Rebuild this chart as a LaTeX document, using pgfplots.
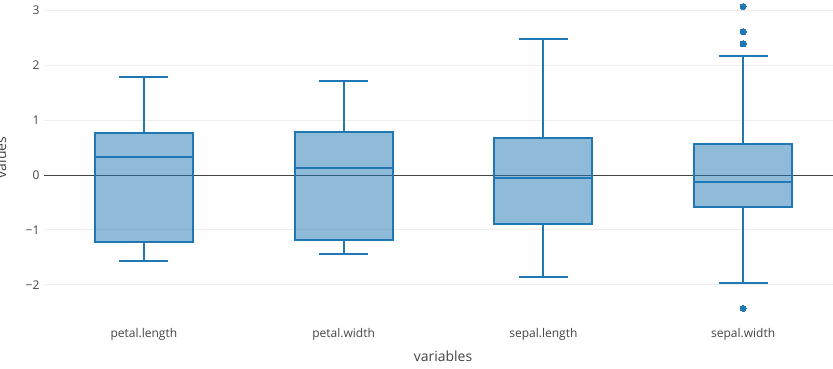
\documentclass[border=0pt]{standalone}
\usepackage{fontspec}
\setmainfont{Open Sans}
\usepackage{pgfplots}
\pgfplotsset{compat=1.18}
\usepgfplotslibrary{statistics}
\definecolor{c}{RGB}{31,119,180}
\definecolor{tx}{RGB}{68,68,68}
\definecolor{gr}{RGB}{238,238,238}
\begin{document}
\begin{tikzpicture}[x=1pt,y=1pt]
\path[use as bounding box] (0,0) rectangle (833,368);
\begin{axis}[
  at={(44pt,50pt)}, anchor=south west,
  scale only axis, width=789pt, height=318pt,
  xmin=-0.5, xmax=3.45, ymin=-2.605, ymax=3.19,
  axis line style={draw=none},
  major tick length=0pt,
  xtick={0,1,2,3},
  xticklabels={petal.length,petal.width,sepal.length,sepal.width},
  ytick={-2,-1,0,1,2,3},
  yticklabels={−2,−1,0,1,2,3},
  ymajorgrids, grid style={gr, line width=1pt},
  tick label style={font=\fontsize{12}{14}\selectfont, text=tx},
  xticklabel style={yshift=-7pt},
  yticklabel style={xshift=-1pt},
  clip=false,
  boxplot/draw direction=y,
  boxplot/box extend=0.49,
  boxplot/whisker extend=0.245,
]
\addplot[tx, line width=1pt] coordinates {(-0.5,0) (3.45,0)};
\addplot[boxplot prepared={draw position=0, lower whisker=-1.56, lower quartile=-1.22, median=0.33, upper quartile=0.76, upper whisker=1.78},
  draw=c, fill=c, fill opacity=0.5, draw opacity=1, line width=2pt] coordinates {};
\addplot[boxplot prepared={draw position=1, lower whisker=-1.44, lower quartile=-1.18, median=0.13, upper quartile=0.79, upper whisker=1.71},
  draw=c, fill=c, fill opacity=0.5, draw opacity=1, line width=2pt] coordinates {};
\addplot[boxplot prepared={draw position=2, lower whisker=-1.86, lower quartile=-0.90, median=-0.05, upper quartile=0.67, upper whisker=2.48},
  draw=c, fill=c, fill opacity=0.5, draw opacity=1, line width=2pt] coordinates {};
\addplot[boxplot prepared={draw position=3, lower whisker=-1.97, lower quartile=-0.59, median=-0.13, upper quartile=0.56, upper whisker=2.17},
  draw=c, fill=c, fill opacity=0.5, draw opacity=1, line width=2pt,
  mark=*, mark size=3pt, mark options={fill=c, draw=c, fill opacity=1, line width=0pt}]
  table[row sep=\\, y index=0] {y\\ 3.07\\ 2.61\\ 2.39\\ -2.43\\};
\end{axis}
\node[rotate=90, anchor=base, text=tx, font=\fontsize{14}{16}\selectfont] at (6,210.5) {values};
\node[text=tx, font=\fontsize{14}{16}\selectfont] at (443,12) {variables};
\end{tikzpicture}
\end{document}
